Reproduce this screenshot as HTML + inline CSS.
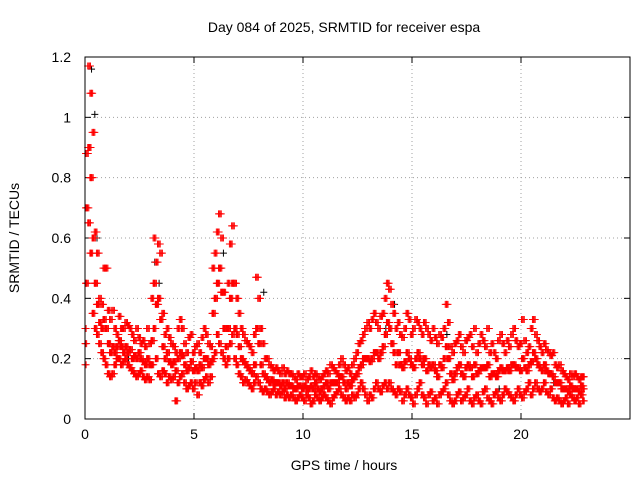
<!DOCTYPE html>
<html><head><meta charset="utf-8"><style>
body{margin:0;background:#fff}
svg{display:block;font-family:"Liberation Sans",sans-serif;font-size:14px}
</style></head><body>
<svg id="chart" width="640" height="480" viewBox="0 0 640 480" xmlns="http://www.w3.org/2000/svg">
<rect width="640" height="480" fill="#fff"/>
<g id="grid"></g>
<g id="ticks"></g>
<g id="marks"></g>
<rect x="85" y="57" width="545" height="362" fill="none" stroke="#000" stroke-width="1"/>
<text x="344" y="32" text-anchor="middle">Day 084 of 2025, SRMTID for receiver espa</text>
<text x="344" y="470" text-anchor="middle">GPS time / hours</text>
<text transform="translate(19,238) rotate(-90)" text-anchor="middle">SRMTID / TECUs</text>
</svg>
<script>
const xTicks=[0,5,10,15,20];
const yTicks=[0,0.2,0.4,0.6,0.8,1,1.2];
const yTickLabels=["0","0.2","0.4","0.6","0.8","1","1.2"];
const step=0.1;
const hiVals=[.30,.88,1.17,1.08,.95,.62,.55,.40,.38,.50,
.50,.36,.33,.36,.30,.28,.34,.30,.30,.32,
.31,.30,.28,.26,.30,.27,.25,.26,.24,.30,
.25,.40,.60,.52,.58,.55,.35,.28,.30,.27,
.25,.24,.22,.30,.33,.30,.25,.22,.27,.28,
.22,.24,.25,.22,.27,.30,.28,.25,.24,.50,
.55,.62,.68,.60,.42,.30,.45,.58,.64,.45,
.40,.35,.30,.28,.26,.25,.24,.22,.28,.47,
.40,.30,.25,.20,.20,.18,.17,.16,.17,.16,
.15,.17,.15,.16,.15,.15,.14,.13,.15,.14,
.14,.15,.13,.14,.16,.14,.15,.14,.13,.14,
.15,.16,.15,.18,.17,.16,.15,.18,.20,.18,
.16,.17,.15,.18,.20,.22,.25,.26,.28,.30,
.32,.30,.33,.35,.32,.30,.34,.35,.40,.45,
.43,.38,.35,.30,.32,.28,.27,.30,.35,.33,
.28,.30,.33,.32,.30,.28,.32,.30,.28,.26,
.30,.27,.25,.28,.27,.30,.38,.32,.24,.22,
.25,.26,.28,.24,.22,.26,.27,.28,.24,.30,
.22,.25,.28,.26,.24,.30,.22,.25,.22,.20,
.26,.28,.25,.22,.26,.24,.28,.30,.26,.24,
.25,.33,.26,.22,.24,.30,.33,.28,.26,.24,
.22,.25,.23,.22,.21,.22,.18,.17,.18,.16,
.15,.14,.13,.15,.14,.15,.14,.13,.14,.14];
const midVals=[.25,.70,.90,.80,.60,.45,.38,.32,.30,.33,
.30,.25,.22,.24,.22,.24,.26,.24,.22,.24,
.22,.23,.20,.21,.20,.22,.20,.19,.18,.20,
.18,.26,.45,.38,.40,.33,.24,.20,.22,.19,
.18,.19,.16,.20,.22,.21,.18,.16,.17,.19,
.16,.17,.16,.18,.17,.20,.20,.18,.19,.35,
.40,.45,.50,.42,.30,.24,.30,.40,.45,.30,
.28,.24,.20,.19,.18,.17,.16,.15,.18,.30,
.25,.18,.15,.14,.13,.12,.13,.12,.12,.12,
.11,.12,.10,.12,.11,.11,.10,.10,.11,.11,
.10,.11,.10,.10,.11,.10,.12,.10,.09,.10,
.11,.12,.10,.12,.12,.12,.12,.14,.14,.12,
.10,.12,.11,.13,.14,.15,.17,.18,.20,.20,
.20,.19,.20,.22,.22,.20,.22,.24,.28,.32,
.30,.25,.22,.18,.22,.18,.17,.19,.22,.20,
.18,.17,.20,.22,.20,.18,.20,.16,.18,.17,
.18,.16,.14,.18,.17,.20,.24,.20,.15,.13,
.15,.17,.18,.15,.14,.17,.18,.17,.14,.18,
.15,.16,.17,.17,.17,.18,.14,.15,.15,.14,
.16,.17,.16,.16,.17,.16,.18,.18,.17,.17,
.16,.20,.17,.16,.18,.19,.22,.20,.18,.17,
.16,.18,.16,.15,.15,.14,.12,.12,.12,.10,
.10,.10,.09,.11,.10,.10,.10,.09,.11,.10];
const loVals=[.18,.45,.65,.55,.35,.30,.28,.25,.22,.20,
.18,.15,.14,.15,.18,.20,.20,.18,.19,.20,
.18,.17,.16,.15,.14,.15,.16,.14,.13,.14,
.13,.18,.30,.20,.15,.14,.16,.15,.12,.14,
.13,.14,.06,.12,.14,.15,.12,.10,.11,.12,
.10,.12,.08,.12,.11,.13,.14,.12,.14,.20,
.22,.28,.25,.22,.20,.18,.20,.25,.28,.20,
.18,.15,.14,.12,.13,.12,.11,.10,.12,.14,
.12,.10,.09,.10,.09,.08,.09,.10,.08,.09,
.08,.09,.07,.08,.07,.08,.07,.06,.07,.08,
.07,.06,.08,.07,.05,.06,.08,.07,.06,.07,
.08,.07,.06,.05,.07,.08,.09,.10,.08,.07,
.06,.07,.06,.08,.07,.08,.10,.12,.10,.08,
.06,.08,.07,.10,.12,.10,.09,.11,.12,.10,
.12,.10,.09,.08,.10,.09,.06,.08,.10,.08,
.07,.05,.08,.10,.12,.08,.07,.05,.08,.09,
.06,.07,.05,.08,.09,.10,.12,.08,.06,.05,
.06,.08,.09,.06,.07,.08,.10,.06,.05,.07,
.08,.06,.05,.09,.10,.07,.06,.05,.08,.09,
.07,.06,.08,.10,.09,.08,.07,.06,.08,.10,
.08,.07,.09,.10,.12,.08,.10,.12,.10,.09,
.10,.12,.09,.08,.10,.07,.06,.07,.06,.05,
.06,.07,.05,.08,.07,.06,.07,.05,.08,.06];
const blackTimes=[0.3,0.45,0.55,2.0,3.2,3.4,6.2,6.35,8.2,10.0,13.8,14.2,15.0,16.6,19.0,21.5,22.5];
const blackVals=[1.16,1.01,0.60,0.20,0.52,0.45,0.50,0.55,0.42,0.10,0.30,0.38,0.18,0.28,0.10,0.12,0.10];

const X0=85,X1=630,Y0=419,Y1=57,XMAX=25,YMAX=1.2;
function xs(v){return X0+(X1-X0)*v/XMAX;}
function ys(v){return Y0-(Y0-Y1)*v/YMAX;}
const NS="http://www.w3.org/2000/svg";
function mk(tag,attrs,parent){const e=document.createElementNS(NS,tag);for(const k in attrs)e.setAttribute(k,attrs[k]);parent.appendChild(e);return e;}
const grid=document.getElementById('grid'),ticks=document.getElementById('ticks'),marks=document.getElementById('marks');
xTicks.forEach(t=>{
 const x=xs(t);
 if(t>0){const g=mk('line',{x1:x,x2:x,y1:Y1,y2:Y0,stroke:'#a0a0a0','stroke-dasharray':'1,3'},grid);
 
 }
 mk('line',{x1:x,x2:x,y1:Y0,y2:Y0-6,stroke:'#000'},ticks);
 mk('line',{x1:x,x2:x,y1:Y1,y2:Y1+6,stroke:'#000'},ticks);
 const l=mk('text',{x:x,y:Y0+20,'text-anchor':'middle'},ticks);l.textContent=String(t);
 
 
});
yTicks.forEach((t,i)=>{
 const y=ys(t);
 if(t>0&&t<YMAX){const g=mk('line',{x1:X0,x2:X1,y1:y,y2:y,stroke:'#a0a0a0','stroke-dasharray':'1,3'},grid);
 
 }
 mk('line',{x1:X0,x2:X0+6,y1:y,y2:y,stroke:'#000'},ticks);
 mk('line',{x1:X1,x2:X1-6,y1:y,y2:y,stroke:'#000'},ticks);
 const l=mk('text',{x:X0-14,y:y+5,'text-anchor':'end'},ticks);l.textContent=yTickLabels[i];
 
 
});
function plus(t,v,color,name){
 const x=xs(t),y=ys(v);
 const p=mk('path',{d:`M${x-3.5} ${y}h7M${x} ${y-3.5}v7`,stroke:color,'stroke-width':1,fill:'none'},marks);
 
 
}
blackTimes.forEach((t,i)=>plus(t,blackVals[i],'#000','black-point'));
const n=hiVals.length;
const A=[hiVals,midVals,loVals];
// each sample slot is drawn at four sub-offsets, mixing values from neighbouring samples
const combos=[[[0,0],[1,0],[2,0]],[[0,1],[1,0],[2,1],[1,1]],[[1,1],[2,0],[0,0],[2,1]],[[2,1],[1,1],[0,1],[1,0]]];
for(let i=0;i<n;i++){
 combos.forEach((c,k)=>{
  if(k>0&&i===n-1)return;
  c.forEach(([a,s])=>{const j=Math.min(n-1,i+s);plus(i*step+k*step/4,A[a][j],'#f00','red-point');});
 });
}
</script>
</body></html>
